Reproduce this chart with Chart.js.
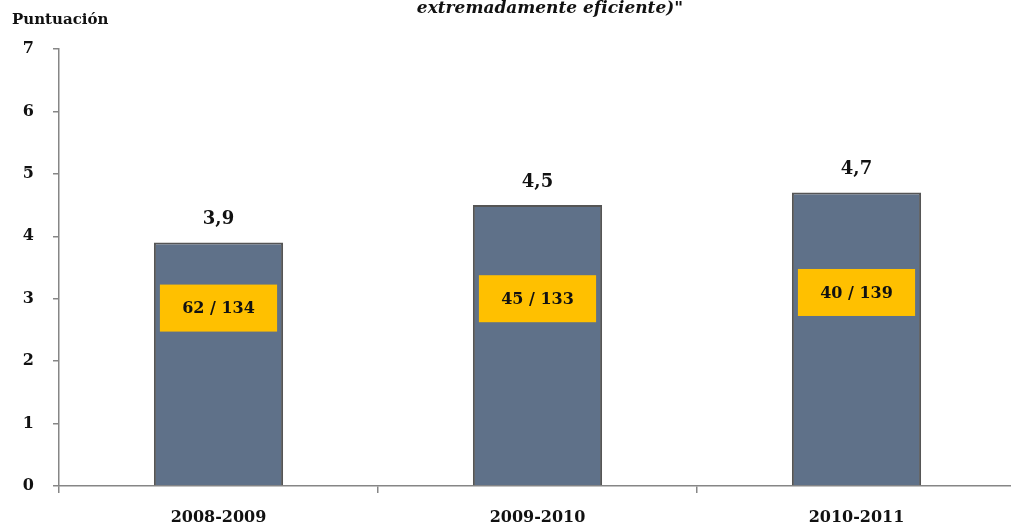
<!DOCTYPE html>
<html lang="es">
<head>
<meta charset="UTF-8">
<title>Puntuación</title>
<script src="https://cdn.jsdelivr.net/npm/chart.js"></script>
<style>
    html, body { margin: 0; padding: 0; background: #fff; overflow: hidden; }
    .wrap { width: 1016px; height: 526px; }
</style>
</head>
<body>
<div class="wrap"><canvas id="chart" width="1016" height="526"></canvas></div>
<script>
    // data
    const categories = ['2008-2009', '2009-2010', '2010-2011'];
    const scores = [3.9, 4.5, 4.7];
    const ranks = ['62 / 134', '45 / 133', '40 / 139'];
    const yMin = 0;
    const yMax = 7;

    const FONT = '"DejaVu Serif", "Liberation Serif", serif';
    const AXIS = '#868686';

    // value labels above bars + yellow rank boxes
    const barText = {
        id: 'barText',
        afterDatasetsDraw(chart, args, opts) {
            const ctx = chart.ctx;
            const y = chart.scales.y;
            const meta = chart.getDatasetMeta(0);
            ctx.save();
            meta.data.forEach((bar, i) => {
                // score label
                ctx.fillStyle = '#111';
                ctx.font = 'bold 18px ' + FONT;
                ctx.textAlign = 'center';
                ctx.textBaseline = 'middle';
                ctx.fillText(scores[i].toFixed(1).replace('.', ','), bar.x, bar.y - 23);

                // rank box
                const w = bar.width - 12;
                const h = 47;
                const cy = y.getPixelForValue(opts.boxCenters[i]);
                ctx.fillStyle = '#FFC000';
                ctx.fillRect(bar.x - w / 2, cy - h / 2, w, h);
                ctx.fillStyle = '#111';
                ctx.font = 'bold 16px ' + FONT;
                ctx.fillText(ranks[i], bar.x, cy + 1);
            });
            ctx.restore();
        }
    };

    const headings = {
        id: 'headings',
        afterDraw(chart) {
            const ctx = chart.ctx;
            ctx.save();
            ctx.fillStyle = '#111';
            ctx.textBaseline = 'middle';
            ctx.textAlign = 'left';
            ctx.font = 'bold 15px ' + FONT;
            ctx.fillText('Puntuación', 12, 20);
            ctx.textAlign = 'center';
            ctx.font = 'italic bold 17px ' + FONT;
            ctx.fillText('extremadamente eficiente)"', 550, 9);
            ctx.restore();
        }
    };

    new Chart(document.getElementById('chart').getContext('2d'), {
        type: 'bar',
        data: {
            labels: categories,
            datasets: [{
                data: scores,
                backgroundColor: '#5F7189',
                borderColor: '#555555',
                borderWidth: 2,
                barPercentage: 0.405,
                categoryPercentage: 1
            }]
        },
        options: {
            responsive: false,
            animation: false,
            layout: { padding: { top: 49, left: 0, right: 0, bottom: 0 } },
            plugins: {
                legend: { display: false },
                tooltip: { enabled: false },
                barText: { boxCenters: [2.85, 3.0, 3.1] }
            },
            scales: {
                x: {
                    afterFit(scale) { scale.height = 40; },
                    grid: {
                        offset: true,
                        drawOnChartArea: false,
                        color: AXIS,
                        lineWidth: 1.5,
                        tickLength: 7
                    },
                    border: { color: AXIS, width: 1.5 },
                    ticks: {
                        color: '#111',
                        padding: 15,
                        font: { family: FONT, size: 16, weight: 'bold' }
                    }
                },
                y: {
                    min: yMin,
                    max: yMax,
                    afterFit(scale) { scale.width = 59; },
                    grid: {
                        drawOnChartArea: false,
                        color: AXIS,
                        lineWidth: 1.5,
                        tickLength: 6
                    },
                    border: { color: AXIS, width: 1.5 },
                    ticks: {
                        stepSize: 1,
                        color: '#111',
                        padding: 19,
                        font: { family: FONT, size: 16, weight: 'bold' }
                    }
                }
            }
        },
        plugins: [barText, headings]
    });
</script>
</body>
</html>
